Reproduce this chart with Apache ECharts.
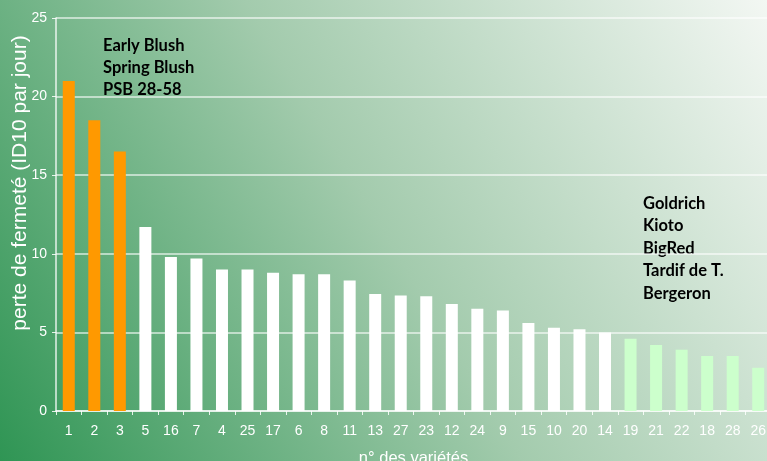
<!DOCTYPE html>
<html>
<head>
<meta charset="utf-8">
<script src="https://cdn.jsdelivr.net/npm/echarts@6/dist/echarts.min.js"></script>
<style>
html,body{margin:0;padding:0;width:767px;height:461px;overflow:hidden;}
#c{width:767px;height:461px;}
</style>
</head>
<body>
<div id="c"></div>
<script>
var categories = ['1','2','3','5','16','7','4','25','17','6','8','11','13','27','23','12','24','9','15','10','20','14','19','21','22','18','28','26'];
var values = [21.0,18.5,16.5,11.7,9.8,9.7,9.0,9.0,8.8,8.7,8.7,8.3,7.45,7.35,7.3,6.8,6.5,6.4,5.6,5.3,5.2,5.0,4.6,4.2,3.9,3.5,3.5,2.75];
var groups = ['early','early','early','mid','mid','mid','mid','mid','mid','mid','mid','mid','mid','mid','mid','mid','mid','mid','mid','mid','mid','mid','late','late','late','late','late','late'];
var yTicks = [0,5,10,15,20,25];
var earlyNames = ['Early Blush','Spring Blush','PSB 28-58'];
var lateNames = ['Goldrich','Kioto','BigRed','Tardif de T.','Bergeron'];
var yTitle = 'perte de fermeté (ID10 par jour)';
var xTitle = 'n° des variétés';

var groupColors = {early:'#ff9900', mid:'#ffffff', late:'#ccffcc'};

var chart = echarts.init(document.getElementById('c'));
chart.setOption({
  animation:false,
  backgroundColor:{type:'linear',x:0,y:1,x2:1,y2:0,colorStops:[
    {offset:0,color:'#2f9554'},
    {offset:0.5,color:'#a3cbad'},
    {offset:1,color:'#f3f7f3'}
  ]},
  grid:{left:56,top:18,right:-4,bottom:50,containLabel:false,outerBoundsMode:'none'},
  xAxis:{
    type:'category',
    data:categories,
    name:xTitle,
    nameLocation:'middle',
    nameGap:39,
    nameTextStyle:{color:'#ffffff',fontSize:16.5,fontFamily:'Liberation Sans'},
    axisLine:{lineStyle:{color:'rgba(255,255,255,0.85)',width:1.5}},
    axisTick:{show:true,length:4,lineStyle:{color:'rgba(255,255,255,0.85)'}},
    axisLabel:{color:'#ffffff',fontSize:14,fontFamily:'Liberation Sans',margin:13,interval:0}
  },
  yAxis:{
    type:'value',
    min:yTicks[0],
    max:yTicks[yTicks.length-1],
    interval:yTicks[1]-yTicks[0],
    axisLine:{show:true,lineStyle:{color:'rgba(255,255,255,0.85)',width:1.5}},
    axisTick:{show:true,length:4,lineStyle:{color:'rgba(255,255,255,0.85)'}},
    axisLabel:{color:'#ffffff',fontSize:14,fontFamily:'Liberation Sans',margin:9},
    splitLine:{show:true,lineStyle:{color:'rgba(255,255,255,0.75)',width:1.5}}
  },
  series:[{
    type:'bar',
    barWidth:12,
    data:values.map(function(v,i){return {value:v,itemStyle:{color:groupColors[groups[i]]}};})
  }],
  graphic:[
    {type:'text',x:20,y:183,rotation:Math.PI/2,style:{text:yTitle,fill:'#ffffff',fontSize:21,fontFamily:'Liberation Sans',align:'center',verticalAlign:'middle'}},
    {type:'text',left:103,top:35,style:{text:earlyNames.join('\n'),fill:'#000000',fontSize:16.5,fontWeight:'bold',fontFamily:'Lato',lineHeight:22}},
    {type:'text',left:643,top:192,style:{text:lateNames.join('\n'),fill:'#000000',fontSize:16.5,fontWeight:'bold',fontFamily:'Lato',lineHeight:22.5}}
  ]
});
</script>
</body>
</html>
